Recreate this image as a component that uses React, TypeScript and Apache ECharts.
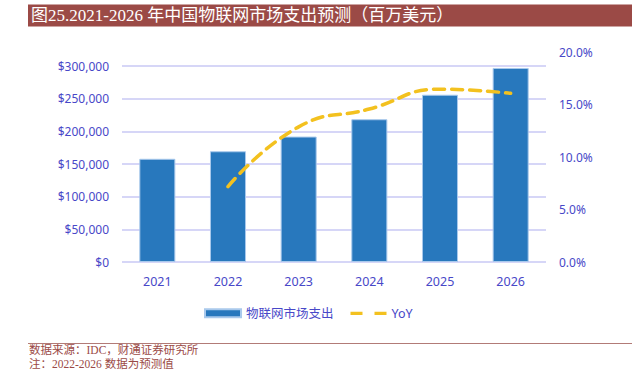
import React, { useEffect, useRef } from "react";
import * as echarts from "echarts";

const categories = ["2021", "2022", "2023", "2024", "2025", "2026"];
const spending = [158000, 169500, 192000, 218500, 256000, 297000];
const yoy = [null, 7.2, 12.9, 14.6, 16.5, 16.1];
const leftTicks = { min: 0, max: 300000, interval: 50000 };
const rightTicks = { min: 0, max: 20, interval: 5 };
const titleText = "图25.2021-2026 年中国物联网市场支出预测（百万美元）";
const sourceText = "数据来源：IDC，财通证券研究所";
const noteText = "注：2022-2026 数据为预测值";
const barName = "物联网市场支出";
const lineName = "YoY";

const axisColor = "#4848c8";
const gridColor = "#c8c8f4";
const lineColor = "#f3c11f";
const sansFont = "'Noto Sans', 'Noto Sans CJK SC', sans-serif";
const serifFont = "'Liberation Serif', 'DejaVu Serif', 'Noto Sans CJK SC', serif";

export default function App() {
  const ref = useRef<HTMLDivElement>(null);
  useEffect(() => {
    if (!ref.current) return;
    const chart = echarts.init(ref.current, undefined, { renderer: "svg" });
    const gridPos = { left: 122, right: 86, bottom: 108 };
    chart.setOption({
      animation: false,
      backgroundColor: "#ffffff",
      grid: [
        { ...gridPos, top: 66 },
        { ...gridPos, top: 52.5 },
      ],
      xAxis: [
        {
          type: "category",
          gridIndex: 0,
          data: categories,
          axisLine: { show: false },
          axisTick: { show: false },
          axisLabel: { color: axisColor, fontSize: 12.5, fontFamily: sansFont, margin: 13 },
        },
        {
          type: "category",
          gridIndex: 1,
          data: categories,
          show: false,
        },
      ],
      yAxis: [
        {
          type: "value",
          gridIndex: 0,
          ...leftTicks,
          axisLine: { show: false },
          axisTick: { show: false },
          splitLine: { lineStyle: { color: gridColor, width: 1.5 } },
          axisLabel: {
            color: axisColor,
            fontSize: 12,
            fontFamily: sansFont,
            margin: 13,
            formatter: (v: number) => "$" + v.toLocaleString("en-US"),
          },
        },
        {
          type: "value",
          gridIndex: 1,
          position: "right",
          ...rightTicks,
          axisLine: { show: false },
          axisTick: { show: false },
          splitLine: { show: false },
          axisLabel: {
            color: axisColor,
            fontSize: 12,
            fontFamily: sansFont,
            margin: 13,
            formatter: (v: number) => v.toFixed(1) + "%",
          },
        },
      ],
      legend: {
        left: 199,
        top: 302,
        itemWidth: 36,
        itemHeight: 8,
        itemGap: 17,
        textStyle: { color: axisColor, fontSize: 12.5, fontFamily: sansFont },
        data: [
          { name: barName, icon: "rect" },
          {
            name: lineName,
            icon: "path://M0,0M36,8M0,2.5h12v3.2h-12zM24,2.5h12v3.2h-12z",
            itemStyle: { color: lineColor },
          },
        ],
      },
      series: [
        {
          name: barName,
          type: "bar",
          xAxisIndex: 0,
          yAxisIndex: 0,
          data: spending,
          barWidth: "51%",
          itemStyle: { color: "#2878bd", borderColor: "#a9c9ec", borderWidth: 1 },
        },
        {
          name: lineName,
          type: "line",
          xAxisIndex: 1,
          yAxisIndex: 1,
          data: yoy,
          smooth: true,
          symbol: "none",
          lineStyle: { color: lineColor, width: 3.5, type: [11, 7], cap: "round" },
          itemStyle: { color: lineColor },
        },
      ],
      graphic: [
        {
          type: "rect",
          shape: { x: 28, y: 4.5, width: 604, height: 22 },
          style: { fill: "#9b4a46" },
        },
        {
          type: "text",
          x: 31,
          y: 15.5,
          style: {
            text: titleText,
            fill: "#ffffff",
            font: `17px ${serifFont}`,
            textVerticalAlign: "middle",
          },
        },
        {
          type: "line",
          shape: { x1: 28, y1: 343.5, x2: 632, y2: 343.5 },
          style: { stroke: "#b27b77", lineWidth: 1 },
        },
        {
          type: "text",
          x: 29,
          y: 350,
          style: {
            text: sourceText,
            fill: "#9b4a46",
            font: `11.5px ${serifFont}`,
            textVerticalAlign: "middle",
          },
        },
        {
          type: "text",
          x: 29,
          y: 363.5,
          style: {
            text: noteText,
            fill: "#9b4a46",
            font: `11.5px ${serifFont}`,
            textVerticalAlign: "middle",
          },
        },
      ],
    });
    return () => chart.dispose();
  }, []);
  return (
    <div
      ref={ref}
      style={{ position: "fixed", left: 0, top: 0, width: 632, height: 370 }}
    />
  );
}
